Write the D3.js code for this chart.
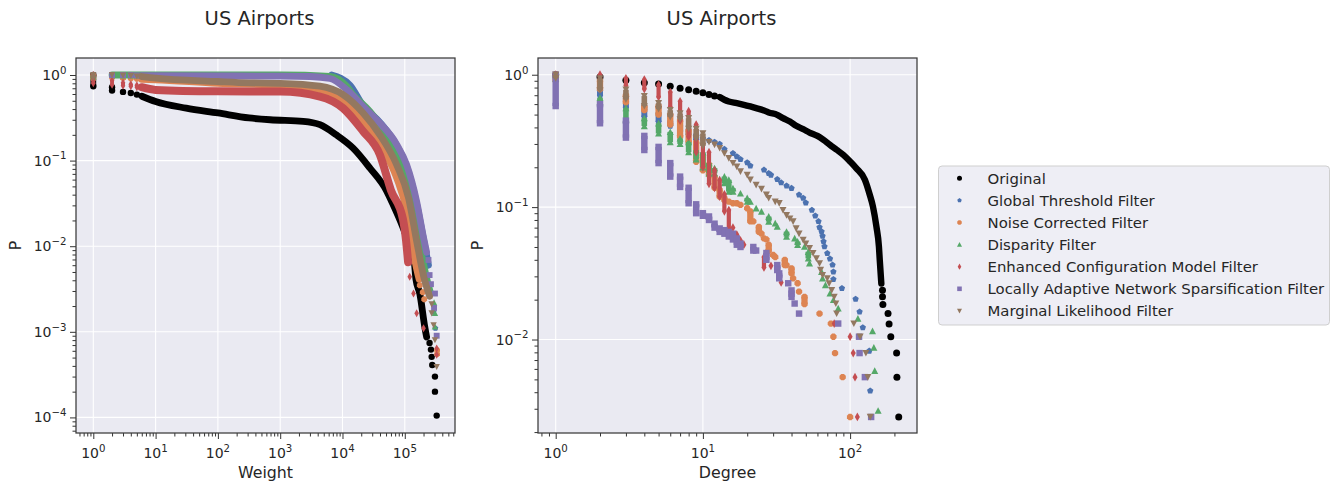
<!DOCTYPE html>
<html><head><meta charset="utf-8">
<script src="https://cdnjs.cloudflare.com/ajax/libs/d3/7.8.5/d3.min.js"></script>
<style>
html,body{margin:0;padding:0;background:#fff;}
svg text{font-family:"DejaVu Sans",sans-serif;fill:#262626;}
</style></head><body>
<svg id="chart" width="1336" height="486"></svg>
<script>
// ================= DATA =================
const seriesNames = ["Original","Global Threshold Filter","Noise Corrected Filter","Disparity Filter",
  "Enhanced Configuration Model Filter","Locally Adaptive Network Sparsification Filter","Marginal Likelihood Filter"];
const panelTitles = ["US Airports","US Airports"];
const xAxisLabels = ["Weight","Degree"];
const yAxisLabel = "P";
// tick labels (powers of ten)
const weightTickExps = [0,1,2,3,4,5];
const weightPTickExps = [0,-1,-2,-3,-4];
const degreeTickExps = [0,1,2];
const degreePTickExps = [0,-1,-2];

// ---- Weight panel: dense runs [weight, P] and separate markers [weight, Ptop, Pbottom?]
const wBandOrig = [[6,0.565],[10,0.49],[31,0.41],[100,0.36],[316,0.315],[690,0.30],[2340,0.288],[4350,0.263],[7950,0.2],[14800,0.14],[27500,0.082],[51300,0.044],[62000,0.033],[94600,0.0162],[1.2e5,0.01],[1.41e5,0.0069],[1.51e5,0.0041],[1.74e5,0.0028],[2.09e5,0.00115],[2.24e5,8.7e-4]];
const wPtsOrig = [[1,1.0,0.74],[2,0.72,0.66],[3,0.635],[4,0.615],[5,0.59],[2.5e5,7.4e-4],[2.63e5,6.2e-4],[2.7e5,5.1e-4],[2.76e5,4.1e-4],[3.05e5,3.0e-4],[3.05e5,2.0e-4],[3.25e5,1.05e-4]];
const wBandGT = [[6700,1.0],[13200,0.76],[21400,0.44],[39800,0.28],[74000,0.15],[1.07e5,0.085],[1.55e5,0.031],[2.0e5,0.012],[2.4e5,0.006]];
const wPtsGT = [[2.9e5,0.0017],[3.1e5,0.0011]];
const wBandNC = [[6,0.89],[10,0.88],[100,0.8],[1000,0.76],[4350,0.675],[10200,0.49],[21400,0.29],[39800,0.155],[74000,0.063],[1.07e5,0.0257],[1.29e5,0.0115],[1.45e5,0.0069],[1.7e5,0.0041]];
const wPtsNC = [[1,1.0,0.9],[2,0.93],[3,0.92],[4,0.91],[5,0.9],[1.74e5,0.0035],[1.94e5,0.0029],[2.05e5,0.0024],[3.3e5,6.1e-4],[3.3e5,5.5e-4]];
const wBandDisp = [[2,1.0],[10,1.0],[100,1.0],[1000,1.0],[6300,0.965],[11700,0.74],[14800,0.59],[27500,0.376],[51300,0.2],[95500,0.075],[1.38e5,0.028],[1.74e5,0.0105],[2.2e5,0.0045],[2.6e5,0.0028]];
const wPtsDisp = [[1,1.0,0.95],[2.95e5,0.0022],[3.05e5,0.00165],[3.05e5,0.00115]];
const wBandECM = [[6,0.72],[10,0.67],[100,0.645],[1000,0.64],[4350,0.56],[10200,0.41],[21400,0.22],[39800,0.117],[60000,0.045],[93000,0.021],[1.05e5,0.0115],[1.13e5,0.0065]];
const wPtsECM = [[1,1.0,0.8],[2,0.86,0.77],[3,0.81,0.75],[4,0.78,0.74],[5,0.76,0.72],[1.2e5,0.0044],[1.38e5,0.0028],[1.55e5,0.00165],[2.0e5,0.0011],[3.25e5,6.4e-4],[3.25e5,5.4e-4]];
const wBandLANS = [[6,0.98],[100,0.975],[1000,0.97],[3000,0.96],[6300,0.91],[11700,0.675],[21400,0.43],[39800,0.275],[74000,0.155],[1.07e5,0.0895],[1.55e5,0.0334],[2.0e5,0.0126],[2.24e5,0.0085]];
const wPtsLANS = [[2,1.0],[3,1.0],[4,1.0],[5,0.99],[2.4e5,0.0069],[2.5e5,0.0046],[2.63e5,0.0036],[3.05e5,0.0028],[2.95e5,0.0019],[3.25e5,9e-4]];
const wBandML = [[6,0.96],[10,0.92],[100,0.84],[316,0.81],[1000,0.8],[4350,0.74],[10200,0.59],[21400,0.36],[39800,0.2],[74000,0.0895],[1.15e5,0.0366],[1.55e5,0.0115],[2.0e5,0.0045],[2.5e5,0.0026]];
const wPtsML = [[1,1.0,0.93],[2,1.0],[3,0.99],[4,0.98],[5,0.965],[2.7e5,0.0021],[2.7e5,0.00165],[2.9e5,0.0012],[3.05e5,8e-4],[3.25e5,3.9e-4]];

// ---- Degree panel
const dBandOrig = [[13,0.678],[14,0.647],[15,0.628],[17,0.61],[19,0.593],[21,0.576],[23,0.56],[26,0.537],[28,0.519],[32,0.498],[35,0.47],[39,0.443],[43,0.411],[48,0.388],[53,0.366],[60,0.345],[66,0.322],[73,0.295],[81,0.271],[90,0.248],[100,0.221],[110,0.197],[126,0.161],[136,0.124],[143,0.101],[151,0.071],[157,0.0503],[159,0.04],[163,0.0265]];
const dPtsOrig = [[1,1.0],[2,0.96],[3,0.91],[4,0.87],[5,0.85],[6,0.82],[7,0.79],[8,0.77],[9,0.75],[10,0.73],[11,0.71],[12,0.69],[166,0.0236],[166,0.021],[167,0.0184],[181,0.0157],[184,0.0131],[189,0.0105],[207,0.0079],[208,0.0052],[214,0.0026]];
const dPtsGT = [[1,1.0,0.93],[2,0.75,0.69],[3,0.65,0.56],[4,0.58,0.48],[5,0.51,0.44],[6,0.44,0.41],[7,0.41,0.37],[8,0.38,0.35],[9,0.35,0.32],[10,0.33],[11,0.32],[12,0.31],[13,0.30],[14,0.274],[16,0.255],[17,0.241],[18,0.23],[20,0.217],[21,0.205],[26,0.191],[28,0.18],[29,0.175],[32,0.162],[34,0.153],[37,0.145],[40,0.139],[45,0.124],[48,0.117],[50,0.108],[55,0.095],[58,0.086],[61,0.078],[62,0.0705],[64,0.0653],[65,0.0605],[66,0.055],[67,0.0503],[70,0.0448],[73,0.0407],[76,0.0366],[77,0.0325],[77,0.0285],[88,0.0244],[109,0.0202],[116,0.0162],[122,0.0123],[135,0.0082],[137,0.0041]];
const dPtsNC = [[1,1.0,0.9],[2,0.9,0.78],[3,0.7,0.62],[4,0.58,0.54],[5,0.58,0.5],[6,0.5,0.42],[7,0.45,0.34],[8,0.38,0.31],[9,0.31,0.22],[10,0.24,0.19],[11,0.21,0.175],[12,0.17,0.14],[13,0.135,0.12],[14,0.117,0.113],[15,0.11],[16,0.107],[17,0.107],[18,0.104],[20,0.098],[21,0.093,0.078],[22,0.078],[24,0.071,0.065],[25,0.063],[26,0.058],[27,0.057],[28,0.052,0.047],[30,0.0435],[31,0.042],[36,0.04,0.0365],[37,0.0365],[40,0.0345,0.0316],[41,0.029],[44,0.0266],[45,0.023],[49,0.021,0.0185],[62,0.0157],[74,0.0132],[77,0.0105],[79,0.0079],[89,0.0052],[100,0.0026]];
const dPtsDisp = [[1,1.0,0.93],[2,0.67,0.62],[3,0.56,0.46],[4,0.47,0.41],[5,0.43,0.36],[6,0.37,0.31],[7,0.33,0.30],[8,0.31,0.26],[9,0.27,0.23],[10,0.26,0.2],[11,0.215,0.18],[12,0.197,0.18],[14,0.17,0.152],[15,0.161,0.131],[16,0.139,0.131],[18,0.127],[20,0.117,0.11],[21,0.11],[23,0.098],[25,0.0925],[28,0.0848,0.0778],[31,0.0755],[32,0.0713],[37,0.0653,0.0598],[42,0.0582],[44,0.055,0.0518],[49,0.0503],[52,0.046,0.041],[53,0.0376],[64,0.0325],[65,0.029],[68,0.0258],[73,0.0223],[77,0.0199],[83,0.0172],[113,0.0144],[142,0.0116],[145,0.0087],[147,0.0058],[155,0.0029]];
const dPtsECM = [[1,1.0,0.95],[2,1.0,0.95],[3,0.94,0.83],[4,0.92,0.78],[5,0.84,0.68],[6,0.74,0.57],[7,0.63,0.45],[8,0.53,0.34],[9,0.42,0.26],[10,0.32,0.2],[11,0.26,0.15],[12,0.19,0.14],[13,0.16,0.12],[14,0.125,0.093],[15,0.095,0.068],[16,0.07],[17,0.062,0.058],[18,0.056],[19,0.052],[22,0.048],[26,0.042,0.035],[29,0.036],[34,0.027],[78,0.0132],[100,0.0105],[105,0.0079],[108,0.0052],[112,0.0026]];
const dPtsLANS = [[1,1.0,0.58],[2,0.6,0.43],[3,0.45,0.335],[4,0.345,0.27],[5,0.285,0.215],[6,0.215,0.17],[7,0.17,0.142],[8,0.14,0.107],[9,0.105,0.09],[10,0.09,0.086],[11,0.085,0.08],[12,0.075,0.07],[13,0.069,0.065],[14,0.067,0.063],[15,0.065,0.06],[16,0.063,0.057],[17,0.058,0.052],[18,0.053,0.05],[22,0.05,0.047],[23,0.047],[27,0.045,0.04],[32,0.0365,0.0335],[33,0.0316,0.029],[38,0.0266],[40,0.0235,0.021],[42,0.0187],[45,0.0157],[83,0.0132],[115,0.0105],[116,0.0079],[126,0.0052],[139,0.0026]];
const dPtsML = [[1,1.0,0.94],[2,0.94,0.76],[3,0.77,0.65],[4,0.69,0.58],[5,0.61,0.55],[6,0.54,0.48],[7,0.51,0.46],[8,0.47,0.39],[9,0.39,0.33],[10,0.36,0.29],[11,0.31],[12,0.296],[13,0.279],[14,0.255],[15,0.234],[16,0.215],[17,0.202],[18,0.186],[20,0.175],[21,0.161],[23,0.147],[25,0.137],[27,0.124],[28,0.117],[31,0.11],[33,0.107],[35,0.095],[37,0.087],[39,0.082],[41,0.078],[43,0.069],[45,0.063],[48,0.0565],[50,0.053],[53,0.049],[56,0.045],[59,0.041],[62,0.0376],[63,0.0335],[65,0.0307],[70,0.029],[72,0.0265],[75,0.0236],[78,0.021],[80,0.0187],[81,0.0157],[106,0.0132],[117,0.0105],[128,0.0079],[132,0.0052],[137,0.0026]];

// ================= STYLE =================
const colors = ["#000000","#4c72b0","#dd8452","#55a868","#c44e52","#8172b3","#937860"];
const shapes = ["circle","pentagon","octagon","tri_up","thin_diamond","square","tri_down"];

function polygon(n, rr, rot){
  const pts=[]; for(let i=0;i<n;i++){const a=rot+i*2*Math.PI/n; pts.push([rr*Math.cos(a), rr*Math.sin(a)]);}
  return "M"+pts.map(p=>p[0].toFixed(2)+","+p[1].toFixed(2)).join("L")+"Z";
}
function markerPath(shape, s) {
  const r = s/2;
  switch(shape){
    case "circle": { const p=d3.path(); p.moveTo(r,0); p.arc(0,0,r,0,2*Math.PI); p.closePath(); return p.toString(); }
    case "square": { const h=r*0.92; return `M${-h},${-h}H${h}V${h}H${-h}Z`; }
    case "tri_up": return `M0,${-r}L${r},${r*0.9}L${-r},${r*0.9}Z`;
    case "tri_down": return `M0,${r}L${r},${-r*0.9}L${-r},${-r*0.9}Z`;
    case "thin_diamond": { const w=r*0.72, h=r*1.25; return `M0,${-h}L${w},0L0,${h}L${-w},0Z`; }
    case "pentagon": return polygon(5, r*0.95, -Math.PI/2);
    case "octagon": return polygon(8, r*0.98, Math.PI/8);
  }
}
const markerWidth = {circle:0.9, square:0.92, tri_up:0.8, tri_down:0.8, thin_diamond:0.6, pentagon:0.85, octagon:0.9};

const svg = d3.select("#chart");
const panels = [
  { x0:76, x1:455, y0:58, y1:433, xDom:[Math.pow(10,-0.2777), Math.pow(10,5.806)], yDom:[Math.pow(10,-4.182), Math.pow(10,0.1986)],
    xExps:weightTickExps, yExps:weightPTickExps, title:panelTitles[0], xlabel:xAxisLabels[0],
    bands:[wBandOrig,wBandGT,wBandNC,wBandDisp,wBandECM,wBandLANS,wBandML],
    pts:[wPtsOrig,wPtsGT,wPtsNC,wPtsDisp,wPtsECM,wPtsLANS,wPtsML], ms:6.4, band:6.8 },
  { x0:538, x1:917, y0:58, y1:433, xDom:[Math.pow(10,-0.1202), Math.pow(10,2.4545)], yDom:[Math.pow(10,-2.706), Math.pow(10,0.1263)],
    xExps:degreeTickExps, yExps:degreePTickExps, title:panelTitles[1], xlabel:xAxisLabels[1],
    bands:[dBandOrig,[],[],[],[],[],[]],
    pts:[dPtsOrig,dPtsGT,dPtsNC,dPtsDisp,dPtsECM,dPtsLANS,dPtsML], ms:7, band:6.4 }
];

function minorTicks(dom){
  const out=[]; const lo=Math.floor(Math.log10(dom[0])), hi=Math.ceil(Math.log10(dom[1]));
  for(let n=lo;n<=hi;n++) for(let k=2;k<=9;k++){ const v=k*Math.pow(10,n); if(v>=dom[0]&&v<=dom[1]) out.push(v); }
  return out;
}
function powLabel(sel, e){
  sel.append("tspan").text("10");
  sel.append("tspan").attr("dy",-6.2).attr("font-size",10.2).text(e<0 ? "\u2212"+(-e) : String(e));
}

panels.forEach((P,pi)=>{
  const x = d3.scaleLog().domain(P.xDom).range([P.x0,P.x1]);
  const y = d3.scaleLog().domain(P.yDom).range([P.y1,P.y0]);
  const g = svg.append("g");
  g.append("rect").attr("x",P.x0).attr("y",P.y0).attr("width",P.x1-P.x0).attr("height",P.y1-P.y0).attr("fill","#eaeaf2");
  const xMaj = P.xExps.map(e=>Math.pow(10,e)), yMaj = P.yExps.map(e=>Math.pow(10,e));
  g.selectAll(".gx").data(xMaj).join("line").attr("x1",d=>x(d)).attr("x2",d=>x(d)).attr("y1",P.y0).attr("y2",P.y1).attr("stroke","#fff").attr("stroke-width",1.1);
  g.selectAll(".gy").data(yMaj).join("line").attr("y1",d=>y(d)).attr("y2",d=>y(d)).attr("x1",P.x0).attr("x2",P.x1).attr("stroke","#fff").attr("stroke-width",1.1);
  const cid = "clip"+pi;
  svg.append("clipPath").attr("id",cid).append("rect").attr("x",P.x0).attr("y",P.y0).attr("width",P.x1-P.x0).attr("height",P.y1-P.y0);
  const plot = g.append("g").attr("clip-path",`url(#${cid})`);
  const line = d3.line().x(d=>x(d[0])).y(d=>y(d[1])).curve(d3.curveMonotoneX);
  seriesNames.forEach((name,si)=>{
    const col = colors[si], shp = shapes[si];
    const sg = plot.append("g");
    const band = P.bands[si];
    if(band.length){
      sg.append("path").attr("d",line(band)).attr("fill","none").attr("stroke",col)
        .attr("stroke-width", si===4 ? P.band+1.2 : P.band).attr("stroke-linecap","round").attr("stroke-linejoin","round");
    }
    const mp = markerPath(shp, P.ms);
    const spans = P.pts[si].filter(d=>d.length>2);
    sg.selectAll(".span").data(spans).join("rect")
      .attr("x",d=>x(d[0])-P.ms*markerWidth[shp]/2).attr("width",P.ms*markerWidth[shp])
      .attr("y",d=>y(d[1])).attr("height",d=>Math.max(0,y(d[2])-y(d[1]))).attr("fill",col);
    const singles = [];
    P.pts[si].forEach(d=>{ singles.push([d[0],d[1]]); if(d.length>2) singles.push([d[0],d[2]]); });
    sg.selectAll(".mk").data(singles).join("path").attr("d",mp)
      .attr("transform",d=>`translate(${x(d[0])},${y(d[1])})`).attr("fill",col);
  });
  const tc = "#333";
  const axB = g.append("g").attr("transform",`translate(0,${P.y1})`)
    .call(d3.axisBottom(x).tickValues(xMaj).tickSize(6).tickFormat(""));
  const axBm = g.append("g").attr("transform",`translate(0,${P.y1})`)
    .call(d3.axisBottom(x).tickValues(minorTicks(P.xDom)).tickSize(3.5).tickFormat(""));
  const axL = g.append("g").attr("transform",`translate(${P.x0},0)`)
    .call(d3.axisLeft(y).tickValues(yMaj).tickSize(6).tickFormat(""));
  const axLm = g.append("g").attr("transform",`translate(${P.x0},0)`)
    .call(d3.axisLeft(y).tickValues(minorTicks(P.yDom)).tickSize(3.5).tickFormat(""));
  [axB,axBm,axL,axLm].forEach(a=>{ a.select(".domain").remove(); a.selectAll("line").attr("stroke",tc).attr("stroke-width",1); a.selectAll("text").remove(); });
  P.xExps.forEach(e=>{
    const t = g.append("text").attr("x",x(Math.pow(10,e))).attr("y",P.y1+25).attr("text-anchor","middle").attr("font-size",14);
    powLabel(t,e);
  });
  P.yExps.forEach(e=>{
    const t = g.append("text").attr("x",P.x0-9.5).attr("y",y(Math.pow(10,e))+5).attr("text-anchor","end").attr("font-size",14);
    powLabel(t,e);
  });
  g.append("rect").attr("x",P.x0).attr("y",P.y0).attr("width",P.x1-P.x0).attr("height",P.y1-P.y0)
    .attr("fill","none").attr("stroke","#3a3a3a").attr("stroke-width",1.25);
  const cx = (P.x0+P.x1)/2;
  g.append("text").attr("x",cx-6).attr("y",25).attr("text-anchor","middle").attr("font-size",19.5).text(P.title);
  g.append("text").attr("x",cx).attr("y",478).attr("text-anchor","middle").attr("font-size",15.8).text(P.xlabel);
  g.append("text").attr("transform",`translate(${P.x0-55},${(P.y0+P.y1)/2}) rotate(-90)`).attr("text-anchor","middle").attr("font-size",15.8).text(yAxisLabel);
});

const lg = svg.append("g");
lg.append("rect").attr("x",938.5).attr("y",166).attr("width",391).attr("height",159).attr("rx",3.5)
  .attr("fill","#eeeef5").attr("stroke","#cfcfcf").attr("stroke-width",1);
seriesNames.forEach((name,si)=>{
  const yy = 178.3 + 22.1*si;
  lg.append("path").attr("d",markerPath(shapes[si],5)).attr("transform",`translate(959.5,${yy})`).attr("fill",colors[si]);
  lg.append("text").attr("x",987.5).attr("y",yy+5.3).attr("font-size",14.9).text(name);
});
</script>
</body></html>
